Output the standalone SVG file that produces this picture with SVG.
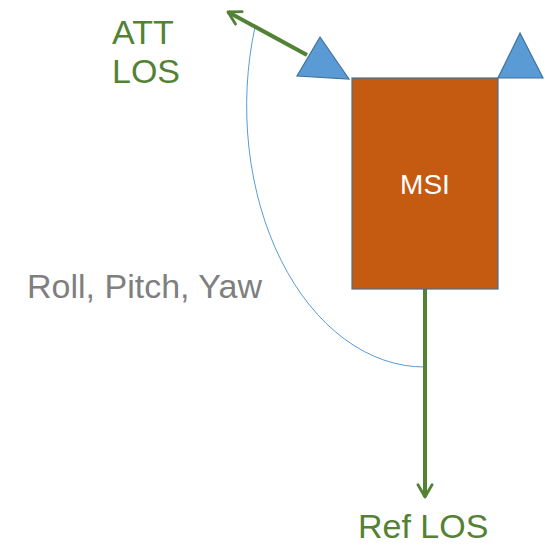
<svg xmlns="http://www.w3.org/2000/svg" width="545" height="547" viewBox="0 0 545 547">
<style>
.lbl{font-family:"Liberation Sans",Arial,sans-serif;font-size:34px}
.green{fill:#548235}
.gray{fill:#7F7F7F}
.tri{fill:#5B9BD5;stroke:#41719C;stroke-width:1.2}
.arrow{stroke:#548235;stroke-width:4;fill:none}
</style>
<defs>
<marker id="head" viewBox="0 0 10 10" refX="8" refY="5" markerWidth="4.4" markerHeight="4.4" orient="auto" markerUnits="strokeWidth">
<path d="M1,1 L8,5 L1,9" fill="none" stroke="#548235" stroke-width="1.6" stroke-linecap="round" stroke-linejoin="round"/>
</marker>
</defs>
<rect width="545" height="547" fill="#ffffff"/>
<g id="connectors">
<path id="arc" d="M 255 27 A 178 261 0 0 0 425 367" fill="none" stroke="#5B9BD5" stroke-width="1"/>
<line id="att-arrow" class="arrow" x1="307" y1="55" x2="228" y2="12" marker-end="url(#head)"/>
<line id="ref-arrow" class="arrow" x1="425" y1="289" x2="425" y2="497" marker-end="url(#head)"/>
</g>
<g id="msi">
<rect x="352" y="78" width="146" height="211" fill="#C55A11" stroke="#41719C" stroke-width="1.2"/>
<text x="425" y="194" text-anchor="middle" font-family="Liberation Sans,Arial,sans-serif" font-size="28" fill="#ffffff">MSI</text>
</g>
<g id="sensor-left">
<polygon class="tri" points="320,37 349,79 297,76"/>
</g>
<g id="sensor-right">
<polygon class="tri" points="520,33 543,78 498,78"/>
</g>
<g id="att-los">
<text class="lbl green" x="112" y="44">ATT</text>
<text class="lbl green" x="112" y="83">LOS</text>
</g>
<g id="roll-pitch-yaw">
<text class="lbl gray" x="27" y="298" font-size="37">Roll, Pitch, Yaw</text>
</g>
<g id="ref-los">
<text class="lbl green" x="358" y="538" font-size="36">Ref LOS</text>
</g>
</svg>
